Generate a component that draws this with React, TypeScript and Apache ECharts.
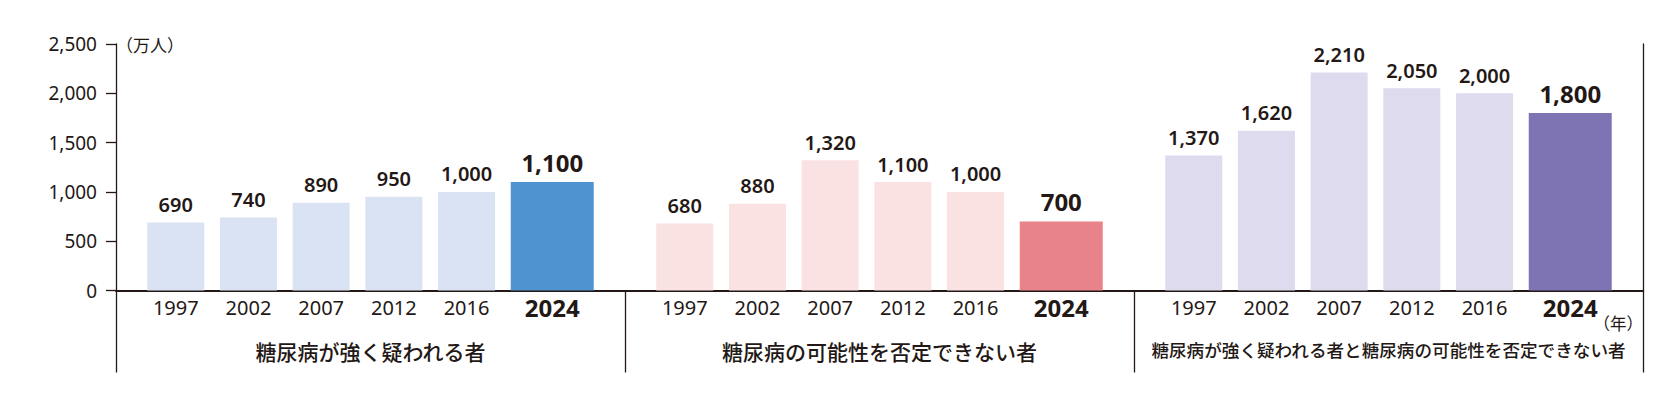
import React, { useEffect, useRef } from "react";
import * as echarts from "echarts";

const years = ["1997", "2002", "2007", "2012", "2016", "2024"];
const groupNames = [
  "糖尿病が強く疑われる者",
  "糖尿病の可能性を否定できない者",
  "糖尿病が強く疑われる者と糖尿病の可能性を否定できない者",
];
const stronglySuspected = [690, 740, 890, 950, 1000, 1100];
const cannotBeRuledOut = [680, 880, 1320, 1100, 1000, 700];
const combinedTotal = [1370, 1620, 2210, 2050, 2000, 1800];
const yMin = 0;
const yMax = 2500;
const yInterval = 500;
const unitLabel = "（万人）";
const yearUnitLabel = "（年）";

const groupValues = [stronglySuspected, cannotBeRuledOut, combinedTotal];
const lightColors = ["#d9e3f4", "#f9e2e1", "#dedbef"];
const darkColors = ["#4f93d0", "#e8838a", "#7f74b3"];

const INK = "#231815";
const NUM_FONT = "'Noto Sans', 'Noto Sans CJK JP', sans-serif";
const JP_FONT = "'Noto Sans CJK JP', 'Noto Sans', sans-serif";

const fmt = (v: number) => Number(v).toLocaleString("en-US");

export default function App() {
  const ref = useRef<HTMLDivElement>(null);

  useEffect(() => {
    if (!ref.current) return;
    const chart = echarts.init(ref.current, undefined, { renderer: "svg" });

    const W = 1680;
    const H = 400;
    const axisLeft = 116;
    const axisRight = 1643;
    const top = 44;
    const baseline = 290.5;
    const bottom = H - baseline;
    const groupW = (axisRight - axisLeft) / 3;
    const barGridOffset = 36.4;
    const barGridW = 436.2;

    const grids: any[] = [
      { left: axisLeft, right: W - axisRight, top, bottom },
    ];
    const xAxes: any[] = [
      {
        gridIndex: 0,
        type: "category",
        data: groupNames,
        boundaryGap: true,
        axisLine: { show: true, lineStyle: { color: INK, width: 2 } },
        axisTick: {
          show: true,
          interval: 0,
          length: 82,
          inside: false,
          lineStyle: { color: INK, width: 1.3 },
        },
        axisLabel: {
          interval: 0,
          margin: 50,
          formatter: (v: string, i: number) => (i === 2 ? `{s|${v}}` : `{n|${v}}`),
          rich: {
            n: { fontSize: 21, fontFamily: JP_FONT, fontWeight: 500, color: INK },
            s: { fontSize: 17.6, fontFamily: JP_FONT, fontWeight: 500, color: INK },
          },
        },
        name: yearUnitLabel,
        nameLocation: "end",
        nameGap: 0,
        nameTextStyle: {
          align: "right",
          verticalAlign: "top",
          padding: [24, 0, 0, 0],
          fontSize: 16.5,
          fontFamily: JP_FONT,
          color: INK,
        },
      },
    ];
    const yAxes: any[] = [
      {
        gridIndex: 0,
        type: "value",
        min: yMin,
        max: yMax,
        interval: yInterval,
        axisLine: { show: true, lineStyle: { color: INK, width: 1.3 } },
        axisTick: { show: true, length: 10, inside: false, lineStyle: { color: INK, width: 1.3 } },
        splitLine: { show: false },
        axisLabel: {
          margin: 19,
          fontSize: 19,
          fontFamily: NUM_FONT,
          color: INK,
          formatter: (v: number) => fmt(v),
        },
        name: unitLabel,
        nameLocation: "end",
        nameGap: 0,
        nameTextStyle: {
          align: "left",
          verticalAlign: "middle",
          padding: [0, 0, 0, 0],
          fontSize: 17,
          fontFamily: JP_FONT,
          color: INK,
        },
      },
      {
        gridIndex: 0,
        type: "value",
        position: "right",
        min: yMin,
        max: yMax,
        interval: yInterval,
        axisLine: { show: true, lineStyle: { color: INK, width: 1.3 } },
        axisTick: { show: false },
        axisLabel: { show: false },
        splitLine: { show: false },
      },
    ];
    const series: any[] = [];

    groupValues.forEach((values, g) => {
      const gi = g + 1;
      grids.push({
        left: axisLeft + groupW * g + barGridOffset,
        width: barGridW,
        top,
        bottom,
      });
      xAxes.push({
        gridIndex: gi,
        type: "category",
        data: years,
        boundaryGap: true,
        axisLine: { show: false },
        axisTick: { show: false },
        splitLine: { show: false },
        axisLabel: {
          interval: 0,
          margin: 4,
          formatter: (v: string, i: number) => (i === years.length - 1 ? `{b|${v}}` : `{a|${v}}`),
          rich: {
            a: {
              fontSize: 20,
              lineHeight: 26,
              fontFamily: NUM_FONT,
              color: INK,
              padding: [0, 26, 0, 0],
            },
            b: {
              fontSize: 24,
              lineHeight: 26,
              fontWeight: "bold",
              fontFamily: NUM_FONT,
              color: INK,
            },
          },
        },
      });
      const yIdx = yAxes.length;
      yAxes.push({
        gridIndex: gi,
        type: "value",
        min: yMin,
        max: yMax,
        interval: yInterval,
        show: false,
        splitLine: { show: false },
      });
      const xIdx = xAxes.length - 1;
      const last = values.length - 1;
      series.push({
        type: "bar",
        xAxisIndex: xIdx,
        yAxisIndex: yIdx,
        clip: false,
        data: values.map((v, k) => (k < last ? v : "-")),
        barWidth: 57,
        barGap: "-100%",
        itemStyle: { color: lightColors[g] },
        label: {
          show: true,
          position: "top",
          distance: 8,
          fontSize: 20,
          fontWeight: 600,
          fontFamily: NUM_FONT,
          color: INK,
          formatter: (p: any) => fmt(p.value),
        },
        z: 1,
      });
      series.push({
        type: "bar",
        xAxisIndex: xIdx,
        yAxisIndex: yIdx,
        clip: false,
        data: values.map((v, k) => (k === last ? v : "-")),
        barWidth: 83,
        barGap: "-100%",
        itemStyle: { color: darkColors[g] },
        label: {
          show: true,
          position: "top",
          distance: 8,
          fontSize: 24,
          fontWeight: "bold",
          fontFamily: NUM_FONT,
          color: INK,
          formatter: (p: any) => fmt(p.value),
        },
        z: 1,
      });
    });

    chart.setOption({
      animation: false,
      backgroundColor: "#ffffff",
      textStyle: { fontFamily: NUM_FONT, color: INK },
      grid: grids,
      xAxis: xAxes,
      yAxis: yAxes,
      series,
    });

    return () => chart.dispose();
  }, []);

  return (
    <div
      ref={ref}
      style={{ position: "absolute", left: 0, top: 0, width: 1680, height: 400, background: "#fff" }}
    />
  );
}
